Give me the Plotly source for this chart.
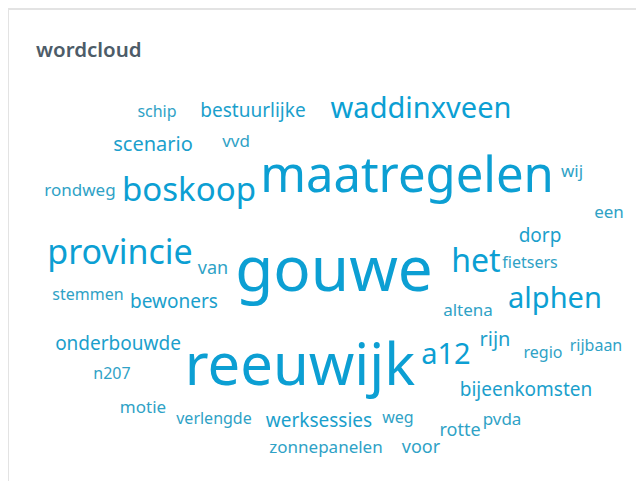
import plotly.graph_objects as go

# ---- data ----
words = ["gouwe", "reeuwijk", "maatregelen", "provincie", "boskoop", "het",
         "waddinxveen", "alphen", "a12", "scenario", "rijn", "bijeenkomsten",
         "onderbouwde", "werksessies", "bewoners", "bestuurlijke", "dorp",
         "voor", "rotte", "van", "zonnepanelen", "motie", "pvda", "rondweg",
         "altena", "een", "vvd", "wij", "verlengde", "weg", "schip", "stemmen",
         "fietsers", "regio", "rijbaan", "n207"]
counts = [50, 46, 37, 22, 21, 20, 17, 17, 17, 8, 8, 7, 7, 7, 7, 7, 7, 6, 6, 6,
          5, 5, 5, 5, 5, 5, 5, 5, 4, 4, 4, 4, 4, 4, 4, 4]

# ---- word-cloud layout (centre of each word, pixels from page top-left) ----
word_x = [334, 300, 407, 120, 189, 476, 421, 555, 446, 153, 495, 526, 118, 319,
          174, 253, 540, 421, 460, 213, 326, 143, 502, 80, 468, 609, 236, 572,
          214, 398, 157, 88, 530, 543, 596, 112]
word_y = [268, 364, 174, 251, 189, 260, 107, 297, 353, 144, 339, 389, 343, 420,
          301, 110, 235, 446, 429, 267, 447, 407, 419, 190, 310, 212, 141, 171,
          418, 417, 111, 294, 262, 352, 345, 373]

PAGE_OFFSET = 8  # default body margin of the html page


def font_size(c):
    return 12 + c


def color(c):
    if c >= 14:
        return "#0c9fd3"
    if c >= 7:
        return "#1b9fcc"
    return "#2fa2c6"


sizes = [font_size(c) for c in counts]
# text "middle" anchor sits a little above the visual centre of lowercase words
plot_y = [y + 0.12 * s for y, s in zip(word_y, sizes)]

fig = go.Figure()
fig.add_trace(go.Scatter(
    x=word_x, y=plot_y, mode="text", text=words,
    textposition="middle center",
    textfont=dict(family="Noto Sans", size=sizes,
                  color=[color(c) for c in counts]),
    hoverinfo="text", showlegend=False,
))

fig.add_shape(type="rect", xref="paper", yref="paper", x0=0, x1=1.05,
              y0=-0.05, y1=1 - 1/481, line=dict(color="#e3e3e3", width=2),
              fillcolor="white", layer="below")

fig.add_annotation(x=(34 - PAGE_OFFSET)/644, y=1 - (49 - PAGE_OFFSET)/481,
                   xref="paper", yref="paper",
                   text="wordcloud", showarrow=False, xanchor="left",
                   yanchor="middle",
                   font=dict(family="Noto Sans", size=20.5, weight=600,
                             color="#4d5c68"))

fig.update_layout(
    width=644, height=481, margin=dict(l=0, r=0, t=0, b=0),
    paper_bgcolor="white", plot_bgcolor="rgba(0,0,0,0)",
    xaxis=dict(range=[PAGE_OFFSET, 644 + PAGE_OFFSET], visible=False,
               fixedrange=True),
    yaxis=dict(range=[481 + PAGE_OFFSET, PAGE_OFFSET], visible=False,
               fixedrange=True),
)
fig.write_html("out.html")
